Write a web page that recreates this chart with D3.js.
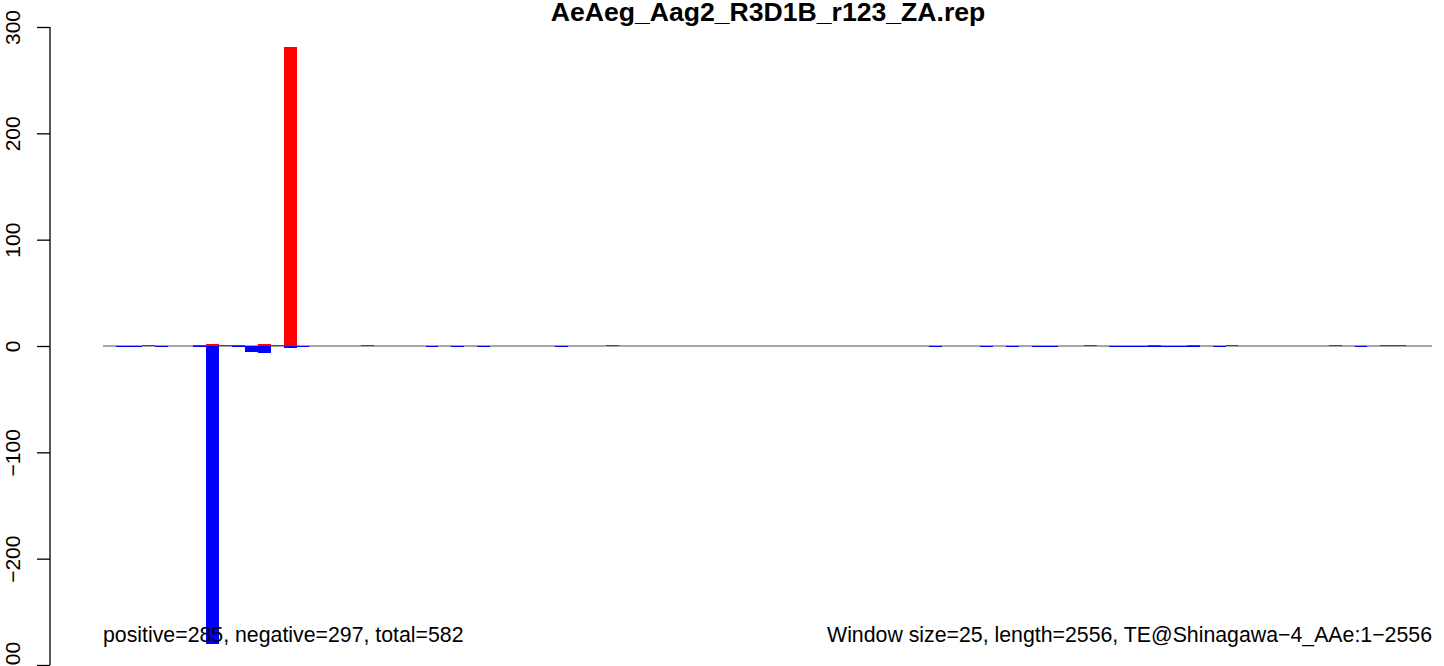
<!DOCTYPE html>
<html>
<head>
<meta charset="utf-8">
<script src="https://cdn.jsdelivr.net/npm/d3@7"></script>
<style>
  html, body { margin: 0; padding: 0; background: #fff; }
  svg { display: block; font-family: "Liberation Sans", Arial, Helvetica, sans-serif; }
</style>
</head>
<body>
<svg id="chart" width="1444" height="666"></svg>
<script>
// ---- data (window index 0..102, window size 25, length 2556) ----
const title = "AeAeg_Aag2_R3D1B_r123_ZA.rep";
const leftNote = "positive=285, negative=297, total=582";
const rightNote = "Window size=25, length=2556, TE@Shinagawa\u22124_AAe:1\u22122556";
const yTicks = [-300, -200, -100, 0, 100, 200, 300];

const positive = [
  0, 0, 0, 1, 0, 0, 0, 1, 2, 1,
  1, 0, 2, 1, 281, 0, 0, 0, 0, 0,
  1, 0, 0, 0, 0, 0, 0, 0, 0, 0,
  0, 0, 0, 0, 0, 0, 0, 0, 0, 1,
  0, 0, 0, 0, 0, 0, 0, 0, 0, 0,
  0, 0, 0, 0, 0, 0, 0, 0, 0, 0,
  0, 0, 0, 0, 0, 0, 0, 0, 0, 0,
  0, 0, 0, 0, 0, 0, 1, 0, 0, 0,
  0, 1, 0, 0, 1, 0, 0, 1, 0, 0,
  0, 0, 0, 0, 0, 1, 0, 0, 0, 1,
  1, 0, 0
];
const negative = [
  0, -1, -1, 0, -1, 0, 0, -1, -280, 0,
  -1, -6, -7, 0, -2, -1, 0, 0, 0, 0,
  0, 0, 0, 0, 0, -1, 0, -1, 0, -1,
  0, 0, 0, 0, 0, -1, 0, 0, 0, 0,
  0, 0, 0, 0, 0, 0, 0, 0, 0, 0,
  0, 0, 0, 0, 0, 0, 0, 0, 0, 0,
  0, 0, 0, 0, -1, 0, 0, 0, -1, 0,
  -1, 0, -1, -1, 0, 0, 0, 0, -1, -1,
  -1, -1, -1, -1, -1, 0, -1, 0, 0, 0,
  0, 0, 0, 0, 0, 0, 0, -1, 0, 0,
  0, 0, 0
];

// ---- layout ----
const svg = d3.select("#chart");
const barLeft = 103, barRight = 1432;
const yTop = 27, yBottom = 665;
const axisX = 50;

const x = d3.scaleBand().domain(d3.range(positive.length)).range([barLeft, barRight]).padding(0);
const y = d3.scaleLinear().domain([-300, 300]).range([yBottom, yTop]);

// zero line
svg.append("line")
  .attr("x1", barLeft).attr("x2", barRight)
  .attr("y1", y(0)).attr("y2", y(0))
  .attr("stroke", "#a6a6a6").attr("stroke-width", 2)
  .attr("shape-rendering", "crispEdges");

// positive bars
svg.append("g").attr("shape-rendering", "crispEdges").selectAll("rect")
  .data(positive.map((v, i) => ({i, v})).filter(d => d.v > 0))
  .join("rect")
  .attr("x", d => x(d.i)).attr("width", x.bandwidth())
  .attr("y", d => y(d.v)).attr("height", d => y(0) - y(d.v))
  .attr("fill", "#ff0000");

// negative bars
svg.append("g").attr("shape-rendering", "crispEdges").selectAll("rect")
  .data(negative.map((v, i) => ({i, v})).filter(d => d.v < 0))
  .join("rect")
  .attr("x", d => x(d.i)).attr("width", x.bandwidth())
  .attr("y", y(0)).attr("height", d => y(d.v) - y(0))
  .attr("fill", "#0000ff");

// y axis
const yAxis = d3.axisLeft(y).tickValues(yTicks).tickSize(13).tickPadding(16)
  .tickFormat(d3.format("d"));
const gy = svg.append("g").attr("transform", `translate(${axisX},0)`).call(yAxis);
gy.select(".domain").attr("stroke", "#000").attr("stroke-width", 1.3)
  .attr("d", `M-0,${yTop}V${yBottom}`);
gy.selectAll(".tick line").attr("stroke", "#000").attr("stroke-width", 1.3);
gy.selectAll(".tick text")
  .attr("font-size", 21)
  .attr("font-family", "Liberation Sans, Arial, sans-serif")
  .attr("fill", "#000")
  .attr("text-anchor", "middle")
  .attr("dy", 0)
  .attr("x", 0)
  .attr("transform", "translate(-30,0) rotate(-90)");

// title
svg.append("text")
  .attr("x", 768).attr("y", 21)
  .attr("text-anchor", "middle")
  .attr("font-size", 26.6).attr("font-weight", "bold")
  .text(title);

// notes
svg.append("text")
  .attr("x", barLeft).attr("y", 642)
  .attr("font-size", 21.3)
  .text(leftNote);
svg.append("text")
  .attr("x", barRight).attr("y", 642)
  .attr("text-anchor", "end")
  .attr("font-size", 21.3)
  .text(rightNote);
</script>
</body>
</html>
